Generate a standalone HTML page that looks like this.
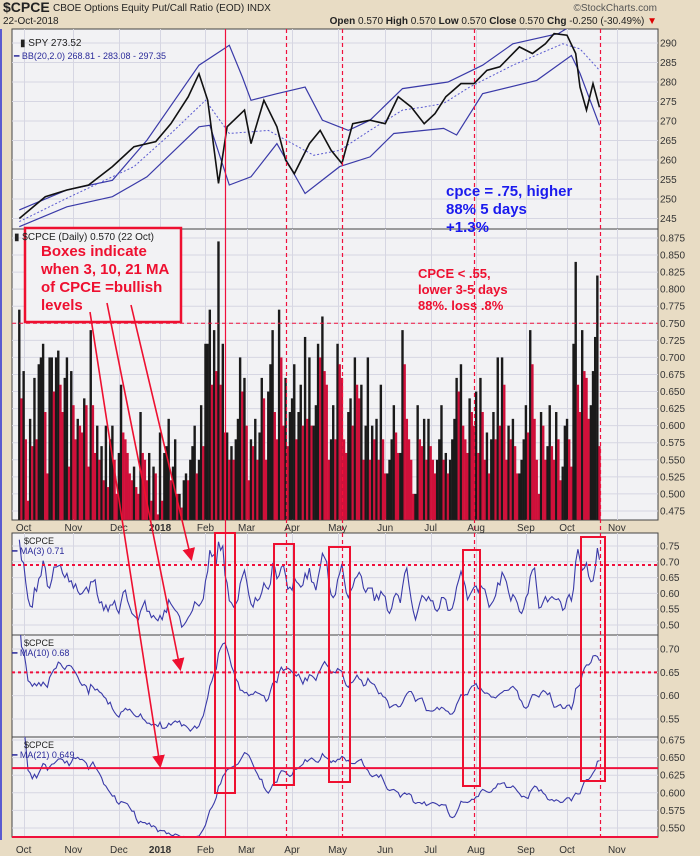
<!DOCTYPE html>
<html><head><meta charset="utf-8"><style>
html,body{margin:0;padding:0;background:#e8dcc4;}
svg{display:block;font-family:"Liberation Sans",sans-serif;}
</style></head><body>
<svg id="chart" width="700" height="856" viewBox="0 0 700 856" xmlns="http://www.w3.org/2000/svg">
<rect x="0" y="0" width="700" height="856" fill="#e8dcc4"/>
<line x1="1" y1="29" x2="1" y2="840" stroke="#5a5ad0" stroke-width="2"/>
<text x="3" y="12" font-size="14" font-weight="bold" fill="#222">$CPCE</text>
<text x="53" y="11" font-size="10" fill="#222">CBOE Options Equity Put/Call Ratio (EOD) INDX</text>
<text x="3" y="24" font-size="10" fill="#222">22-Oct-2018</text>
<text x="657" y="11" font-size="10" fill="#555" text-anchor="end">©StockCharts.com</text>
<text x="657" y="24" font-size="10" fill="#222" text-anchor="end"><tspan font-weight="bold">Open</tspan> 0.570 <tspan font-weight="bold">High</tspan> 0.570 <tspan font-weight="bold">Low</tspan> 0.570 <tspan font-weight="bold">Close</tspan> 0.570 <tspan font-weight="bold">Chg</tspan> -0.250 (-30.49%) <tspan fill="#d00">▼</tspan></text>
<g id="g"></g>
</svg>
<script>
// ---- data ----
const cpce = [
0.77,0.64,0.68,0.58,0.49,0.61,0.57,0.67,0.58,0.69,0.70,0.72,0.62,0.53,0.70,0.70,0.65,0.70,0.71,0.66,0.62,0.67,0.70,0.54,
0.68,0.63,0.58,0.61,0.60,0.59,0.64,0.63,0.54,0.74,0.63,0.56,0.60,0.55,0.57,0.52,0.60,0.51,0.58,0.60,0.55,
0.50,0.56,0.66,0.59,0.58,0.56,0.53,0.52,0.54,0.51,0.50,0.62,0.56,0.55,0.52,0.56,0.49,0.54,0.53,0.47,
0.59,0.49,0.56,0.57,0.61,0.52,0.54,0.58,0.50,0.50,0.48,0.52,0.53,0.52,0.55,0.57,0.60,0.53,0.55,0.63,0.57,
0.72,0.72,0.77,0.66,0.74,0.68,0.87,0.66,0.72,0.59,0.59,0.55,0.57,0.55,0.58,0.61,0.70,0.65,0.67,
0.60,0.52,0.58,0.57,0.61,0.55,0.59,0.67,0.64,0.55,0.65,0.69,0.74,0.62,0.58,0.77,0.70,0.60,0.67,0.57,0.62,
0.64,0.69,0.58,0.62,0.66,0.60,0.73,0.61,0.70,0.60,0.60,0.63,0.72,0.70,0.76,0.68,0.66,0.55,0.58,0.63,0.58,
0.72,0.69,0.67,0.58,0.56,0.62,0.64,0.60,0.70,0.66,0.64,0.66,0.55,0.60,0.70,0.55,0.60,0.58,0.61,0.55,0.66,0.58,
0.53,0.53,0.55,0.58,0.63,0.59,0.56,0.56,0.74,0.69,0.61,0.58,0.55,0.50,0.50,0.63,0.58,0.57,0.61,0.55,0.61,
0.57,0.55,0.53,0.55,0.58,0.63,0.55,0.56,0.53,0.55,0.58,0.61,0.67,0.65,0.69,0.60,0.58,0.56,0.64,0.62,0.60,
0.65,0.56,0.67,0.62,0.55,0.59,0.53,0.58,0.62,0.58,0.70,0.60,0.70,0.66,0.55,0.60,0.58,0.61,0.57,0.53,0.53,0.55,0.58,
0.63,0.59,0.74,0.69,0.61,0.55,0.50,0.62,0.60,0.55,0.57,0.63,0.57,0.55,0.62,0.58,0.52,0.54,0.60,
0.61,0.58,0.54,0.72,0.84,0.66,0.62,0.74,0.68,0.67,0.61,0.63,0.68,0.73,0.82,0.57];
const spyDay = [0,12,22,32,43,53,63,70,78,83,87,90,92,96,104,107,113,119,123,127,134,139,144,149,154,162,169,175,181,187,192,197,204,210,216,222,231,237,243,247,253,257,259,262,265,268];
const spyClose = [245,250.6,252.3,253.6,258.3,263.4,264.7,269.3,276.2,282.1,275.3,262.5,254,268.5,272.8,264.2,275.3,268.5,260,256.5,264.2,267.6,262.5,259.1,269.3,270.2,269.3,276.2,273.6,269.3,271.9,276.2,279.6,279.6,283,283.9,289,287.3,289.8,292.4,292,287.3,278.7,272.8,279.6,273.5];
const bbUpDay = [0,22,43,59,83,97,103,107,119,132,140,152,162,177,198,214,228,249,259,268];
const bbUp = [247.2,252.3,254.8,265.1,284.3,289.4,281.3,275.3,277,278.7,270.2,267.6,270.2,278.3,280,284.3,289.8,292.4,295.8,300];
const bbLoDay = [0,22,43,59,83,88,97,107,119,132,148,162,173,196,202,214,239,255,259,268];
const bbLo = [242.9,248,250.6,255.7,268.5,268.9,253.6,255.7,264.2,251.4,258.3,260.8,266.8,268.1,266.4,277,280.4,286.8,282.2,268.9];
const bbMidDay = [0,22,53,70,86,97,115,136,148,162,177,187,196,208,228,251,259,268];
const bbMid = [244.2,250.2,258.3,266.8,275.3,266.8,267.6,261.2,262.5,267.6,272.8,273.6,274.5,278.7,284.3,289.8,288.5,283];
const monthNames = ["Oct","Nov","Dec","2018","Feb","Mar","Apr","May","Jun","Jul","Aug","Sep","Oct","Nov"];
const monthDay = [2,25,46,65,86,105,126,147,169,190,211,234,253,276];
const eventDay = [95,123,149,210,268];
const spyTicks = [245,250,255,260,265,270,275,280,285,290];
const cpceTicks = [0.475,0.5,0.525,0.55,0.575,0.6,0.625,0.65,0.675,0.7,0.725,0.75,0.775,0.8,0.825,0.85,0.875];
const ma3Ticks = [0.5,0.55,0.6,0.65,0.7,0.75];
const ma10Ticks = [0.55,0.6,0.65,0.7];
const ma21Ticks = [0.55,0.575,0.6,0.625,0.65,0.675];
const levels = {ma3:0.69, ma10:0.65, ma21:0.635, cpce:0.75};

// ---- scales ----
const L=12,R=658;
const xs = i => 19.3 + i*2.165;
const ySpy = p => 43 + (290-p)*3.9;
const yCp = v => 238 + (0.875-v)/0.025*17.06;
const yM3 = v => 546 + (0.75-v)*316;
const yM10 = v => 649 + (0.70-v)*466.7;
const yM21 = v => 740 + (0.675-v)*704;
const panels = [
 {name:'spy-panel',top:29,bot:229,ticks:spyTicks,f:ySpy,fmt:v=>String(v)},
 {name:'cpce-panel',top:229,bot:520,ticks:cpceTicks,f:yCp,fmt:v=>v.toFixed(3)},
 {name:'ma3-panel',top:533,bot:635,ticks:ma3Ticks,f:yM3,fmt:v=>v.toFixed(2)},
 {name:'ma10-panel',top:635,bot:737,ticks:ma10Ticks,f:yM10,fmt:v=>v.toFixed(2)},
 {name:'ma21-panel',top:737,bot:837,ticks:ma21Ticks,f:yM21,fmt:v=>v.toFixed(3)}
];
const NS='http://www.w3.org/2000/svg';
const G=document.getElementById('g');
function mk(tag,attrs,parent){const e=document.createElementNS(NS,tag);for(const k in attrs)e.setAttribute(k,attrs[k]);(parent||G).appendChild(e);return e;}
function ma(a,n){return a.map((_,i)=>{let s=0,c=0;for(let j=Math.max(0,i-n+1);j<=i;j++){s+=a[j];c++;}return s/c;});}

panels.forEach(p=>{
 const r=mk('rect',{x:L,y:p.top,width:R-L,height:p.bot-p.top,fill:'#f2f2f4',stroke:'#444','stroke-width':1});
 
 
 monthDay.forEach(d=>{const x=Math.round(xs(d))+0.5;if(x<R){const l=mk('line',{x1:x,x2:x,y1:p.top,y2:p.bot,stroke:'#d6d6e2','stroke-width':1});
  
  }});
 p.ticks.forEach(t=>{const y=p.f(t);
  const l=mk('line',{x1:L,x2:R,y1:y,y2:y,stroke:'#d6d6e2','stroke-width':1});
  
  
  const tx=mk('text',{x:660,y:y+3.5,'font-size':10,fill:'#333'});tx.textContent=p.fmt(t);
  
  });
});
const clip=(id,top,bot)=>{const c=mk('clipPath',{id:id});mk('rect',{x:L,y:top,width:R-L,height:bot-top},c);};
panels.forEach((p,k)=>clip('c'+k,p.top,p.bot));

function poly(days,vals,f,attrs,name,clipId){const pts=days.map((d,i)=>xs(d).toFixed(1)+','+f(vals[i]).toFixed(1)).join(' ');
 const e=mk('polyline',Object.assign({points:pts,fill:'none','clip-path':'url(#'+clipId+')'},attrs));
 
 return e;}
poly(bbUpDay,bbUp,ySpy,{stroke:'#3a3aa8','stroke-width':1.2},'bb-upper','c0');
poly(bbLoDay,bbLo,ySpy,{stroke:'#3a3aa8','stroke-width':1.2},'bb-lower','c0');
poly(bbMidDay,bbMid,ySpy,{stroke:'#5a5ad0','stroke-width':1,'stroke-dasharray':'2,2'},'bb-middle','c0');
poly(spyDay,spyClose,ySpy,{stroke:'#111','stroke-width':1.6},'spy-price','c0');

const base=yCp(0.462);
cpce.forEach((v,i)=>{const up=i===0||v>=cpce[i-1];
 const y=yCp(v);
 const b=mk('rect',{x:xs(i)-1.2,y:y,width:2.4,height:base-y,fill:up?'#1a1a1a':'#d0103a','clip-path':'url(#c1)'});
 
 });

const allDays=cpce.map((_,i)=>i);
poly(allDays,ma(cpce,3),yM3,{stroke:'#3a3aa8','stroke-width':1.1},'ma3-line','c2');
poly(allDays,ma(cpce,10),yM10,{stroke:'#3a3aa8','stroke-width':1.1},'ma10-line','c3');
poly(allDays,ma(cpce,21),yM21,{stroke:'#3a3aa8','stroke-width':1.1},'ma21-line','c4');

[[yCp(levels.cpce),'1','4,3','cpce-075-level'],[yM3(levels.ma3),'2','3,3','ma3-bullish-level'],[yM10(levels.ma10),'2','3,3','ma10-bullish-level'],[yM21(levels.ma21),'2','none','ma21-bullish-level']].forEach(a=>{
 const l=mk('line',{x1:L,x2:R,y1:a[0],y2:a[0],stroke:'#f0103c','stroke-width':a[1],'stroke-dasharray':a[2]});
 
 });
const bl=mk('line',{x1:L,x2:R,y1:837,y2:837,stroke:'#f0103c','stroke-width':2});



eventDay.forEach((d,k)=>{const x=Math.round(xs(d))+0.5;
 const l=mk('line',{x1:x,x2:x,y1:29,y2:837,stroke:'#f0103c','stroke-width':1.2,'stroke-dasharray':k===0?'none':'4,3'});
 
 });

[527,849].forEach(yy=>{monthNames.forEach((m,k)=>{const t=mk('text',{x:xs(monthDay[k]),y:yy+4,'font-size':10,'text-anchor':'middle',fill:'#333','font-weight':m==='2018'?'bold':'normal'});t.textContent=m;
 
 });});
</script>
<svg width="700" height="856" style="position:absolute;left:0;top:0" xmlns="http://www.w3.org/2000/svg" font-family="Liberation Sans, sans-serif">
<text x="20" y="46" font-size="10" fill="#222">▮ SPY 273.52</text>
<text x="14" y="59" font-size="9" fill="#2a2a9a">━ BB(20,2.0) 268.81 - 283.08 - 297.35</text>
<text x="24" y="544" font-size="9" fill="#222">$CPCE</text>
<text x="12" y="554" font-size="9" fill="#2a2a9a">━ MA(3) 0.71</text>
<text x="24" y="646" font-size="9" fill="#222">$CPCE</text>
<text x="12" y="656" font-size="9" fill="#2a2a9a">━ MA(10) 0.68</text>
<text x="24" y="748" font-size="9" fill="#222">$CPCE</text>
<text x="12" y="758" font-size="9" fill="#2a2a9a">━ MA(21) 0.649</text>
<g font-size="15" font-weight="bold" fill="#1a1aee">
<text x="446" y="196">cpce = .75, higher</text><text x="446" y="214">88% 5 days</text><text x="446" y="232">+1.3%</text></g>
<g font-size="13" font-weight="bold" fill="#ee1030">
<text x="418" y="278">CPCE &lt; .55,</text><text x="418" y="294">lower 3-5 days</text><text x="418" y="310">88%. loss .8%</text></g>
<rect x="25" y="228" width="156" height="94" fill="#f2f2f4" stroke="#ee1030" stroke-width="2.5"/>
<text x="14" y="240" font-size="10" fill="#222">▮ $CPCE (Daily) 0.570 (22 Oct)</text>
<g font-size="15" font-weight="bold" fill="#ee1030">
<text x="41" y="256">Boxes indicate</text><text x="41" y="274">when 3, 10, 21 MA</text><text x="41" y="292">of CPCE =bullish</text><text x="41" y="310">levels</text></g>
<defs><marker id="ah" markerWidth="8" markerHeight="8" refX="6" refY="4" orient="auto"><path d="M0,0 L8,4 L0,8 Z" fill="#ee1030"/></marker></defs>
<g stroke="#ee1030" stroke-width="1.6" fill="none" marker-end="url(#ah)">
<line x1="131" y1="305" x2="191" y2="558"/><line x1="107" y1="303" x2="180" y2="668"/><line x1="90" y1="312" x2="160" y2="765"/></g>
<g stroke="#ee1030" stroke-width="2" fill="none">
<rect x="215" y="533" width="20" height="260"/><rect x="274" y="544" width="20" height="241"/><rect x="329" y="547" width="21" height="235"/><rect x="463" y="550" width="17" height="236"/><rect x="581" y="537" width="24" height="244"/></g>
</svg>
</body></html>
